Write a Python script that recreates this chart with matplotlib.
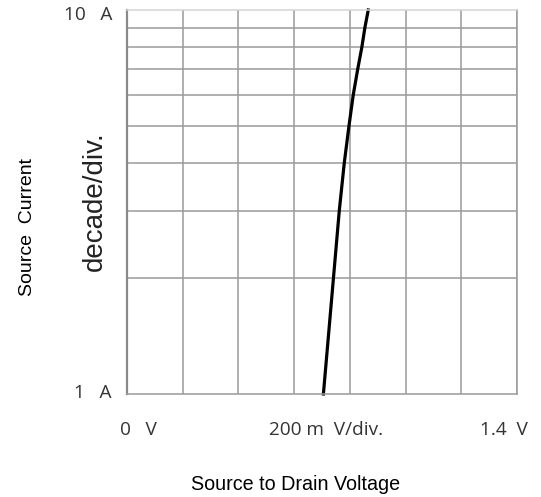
import matplotlib.pyplot as plt
import numpy as np

# diode forward curve
current_a = [1, 2, 3, 4, 5, 6, 7, 8, 9, 10]
vsd_v = [0.705, 0.741, 0.762, 0.780, 0.797, 0.812, 0.828, 0.843, 0.854, 0.866]

x_ticks = np.arange(0, 1.41, 0.2)
y_minor = [2, 3, 4, 5, 6, 7, 8, 9]

W, H = 541, 497
fig = plt.figure(figsize=(W / 100, H / 100), dpi=100)
ax = fig.add_axes([127 / W, 1 - 394 / H, 390 / W, 384 / H])

ax.set_xlim(0, 1.4)
ax.set_yscale('log')
ax.set_ylim(1, 10)
ax.set_xticks(x_ticks)
ax.set_yticks([1, 10])
ax.set_yticks(y_minor, minor=True)
ax.tick_params(which='both', length=0, labelbottom=False, labelleft=False)
ax.grid(True, axis='x', which='major', color='#9a9a9a', lw=1.1)
ax.grid(True, axis='y', which='minor', color='#9a9a9a', lw=1.1)

ax.spines['left'].set_color('#8a8a8a')
ax.spines['left'].set_linewidth(1.6)
ax.spines['bottom'].set_color('#9a9a9a')
ax.spines['bottom'].set_linewidth(1.1)
ax.spines['right'].set_color('#9a9a9a')
ax.spines['right'].set_linewidth(1.1)
ax.spines['top'].set_color('#d4d4d4')
ax.spines['top'].set_linewidth(1.1)

ax.plot(vsd_v, current_a, color='black', lw=2.3, clip_on=False)


def px(x, y):
    return x / W, 1 - y / H


lab = dict(family='Open Sans', color='#333333', fontsize=13.7)
fig.text(*px(112, 15), '10   A', ha='right', va='center', **lab)
fig.text(*px(112, 393), '1   A', ha='right', va='center', **lab)
fig.text(*px(138, 430), '0   V', ha='center', va='center', **lab)
fig.text(*px(326, 430), '200 m  V/div.', ha='center', va='center', **lab)
fig.text(*px(504, 430), '1.4  V', ha='center', va='center', **lab)
fig.text(*px(95, 201), 'decade/div.', ha='center', va='center', rotation=90,
         family='Liberation Sans', color='#222222', fontsize=20)

fig.text(*px(28, 227), 'Source  Current', ha='center', va='center', rotation=90,
         family='Liberation Sans', color='black', fontsize=14)
fig.text(*px(296, 485), 'Source to Drain Voltage', ha='center', va='center',
         family='Liberation Sans', color='black', fontsize=14.2)

fig.savefig('out.png', dpi=100)
